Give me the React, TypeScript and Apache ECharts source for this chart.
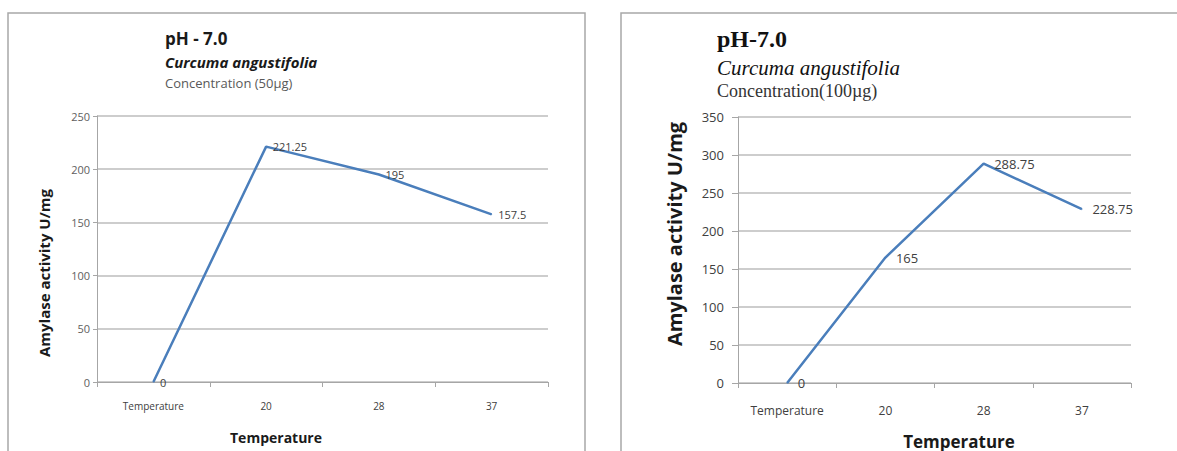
import React, { useEffect, useRef } from "react";
import * as echarts from "echarts";

const categories = ["Temperature", "20", "28", "37"];
const activity50 = [0, 221.25, 195, 157.5];
const activity100 = [0, 165, 288.75, 228.75];
const yMax50 = 250;
const yMax100 = 350;
const yInterval = 50;

const SANS = "'Open Sans', 'Noto Sans', sans-serif";
const SERIF = "'Liberation Serif', 'DejaVu Serif', serif";
const LINE = "#4a7ebb";
const GRID = "#bdbdbd";
const AXIS = "#a6a6a6";

export default function App() {
  const ref = useRef<HTMLDivElement>(null);
  useEffect(() => {
    if (!ref.current) return;
    const chart = echarts.init(ref.current, null, { renderer: "svg" });
    const option: any = {
      animation: false,
      backgroundColor: "#ffffff",
      grid: [
        { left: 97, top: 116, width: 451, height: 266 },
        { left: 738, top: 117, width: 393, height: 266 },
      ],
      xAxis: [
        {
          gridIndex: 0,
          type: "category",
          data: categories,
          boundaryGap: true,
          axisLine: { lineStyle: { color: AXIS, width: 1 } },
          axisTick: { show: true, length: 5, lineStyle: { color: AXIS } },
          axisLabel: { fontFamily: SANS, fontSize: 10, color: "#404040", margin: 19 },
        },
        {
          gridIndex: 1,
          type: "category",
          data: categories,
          boundaryGap: true,
          axisLine: { lineStyle: { color: AXIS, width: 1 } },
          axisTick: { show: true, length: 5, lineStyle: { color: AXIS } },
          axisLabel: { fontFamily: SANS, fontSize: 12, color: "#404040", margin: 21 },
        },
      ],
      yAxis: [
        {
          gridIndex: 0,
          type: "value",
          min: 0,
          max: yMax50,
          interval: yInterval,
          axisLine: { show: true, lineStyle: { color: AXIS } },
          axisTick: { show: true, length: 4, lineStyle: { color: AXIS } },
          splitLine: { lineStyle: { color: GRID, width: 1.5 } },
          axisLabel: { fontFamily: SANS, fontSize: 11, color: "#606060", margin: 7 },
        },
        {
          gridIndex: 1,
          type: "value",
          min: 0,
          max: yMax100,
          interval: yInterval,
          axisLine: { show: true, lineStyle: { color: AXIS } },
          axisTick: { show: true, length: 6, lineStyle: { color: AXIS } },
          splitLine: { lineStyle: { color: GRID, width: 1.5 } },
          axisLabel: { fontFamily: SANS, fontSize: 13, color: "#404040", margin: 14 },
        },
      ],
      series: [
        {
          type: "line",
          xAxisIndex: 0,
          yAxisIndex: 0,
          data: activity50,
          symbol: "circle",
          symbolSize: 1,
          itemStyle: { color: LINE },
          lineStyle: { color: LINE, width: 2.5 },
          label: {
            show: true,
            position: "right",
            distance: 6,
            fontFamily: SANS,
            fontSize: 11,
            color: "#404040",
          },
        },
        {
          type: "line",
          xAxisIndex: 1,
          yAxisIndex: 1,
          data: activity100,
          symbol: "circle",
          symbolSize: 1,
          itemStyle: { color: LINE },
          lineStyle: { color: LINE, width: 2.5 },
          label: {
            show: true,
            position: "right",
            distance: 10,
            fontFamily: SANS,
            fontSize: 13,
            color: "#404040",
          },
        },
      ],
      graphic: [
        {
          type: "rect",
          z: -10,
          shape: { x: 8, y: 13, width: 577, height: 460 },
          style: { fill: "#ffffff", stroke: "#a8a8a8", lineWidth: 1.5 },
        },
        {
          type: "rect",
          z: -10,
          shape: { x: 621, y: 13, width: 580, height: 460 },
          style: { fill: "#ffffff", stroke: "#a8a8a8", lineWidth: 1.5 },
        },
        // left titles
        {
          type: "text",
          x: 165,
          y: 38,
          style: { text: "pH - 7.0", font: `bold 17px ${SANS}`, fill: "#1a1a1a", verticalAlign: "middle" },
        },
        {
          type: "text",
          x: 165,
          y: 62,
          style: { text: "Curcuma angustifolia", font: `italic bold 15px ${SANS}`, fill: "#1a1a1a", verticalAlign: "middle" },
        },
        {
          type: "text",
          x: 165,
          y: 83,
          style: { text: "Concentration (50µg)", font: `13px ${SANS}`, fill: "#595959", verticalAlign: "middle" },
        },
        // right titles
        {
          type: "text",
          x: 717,
          y: 39,
          style: { text: "pH-7.0", font: `bold 24px ${SERIF}`, fill: "#111111", verticalAlign: "middle" },
        },
        {
          type: "text",
          x: 717,
          y: 68,
          style: { text: "Curcuma angustifolia", font: `italic 21px ${SERIF}`, fill: "#111111", verticalAlign: "middle" },
        },
        {
          type: "text",
          x: 717,
          y: 91,
          style: { text: "Concentration(100µg)", font: `18px ${SERIF}`, fill: "#333333", verticalAlign: "middle" },
        },
        // axis names
        {
          type: "text",
          x: 44,
          y: 273,
          rotation: Math.PI / 2,
          style: { text: "Amylase activity U/mg", font: `bold 15px ${SANS}`, fill: "#1a1a1a", align: "center", verticalAlign: "middle" },
        },
        {
          type: "text",
          x: 276,
          y: 437,
          style: { text: "Temperature", font: `bold 14px ${SANS}`, fill: "#1a1a1a", align: "center", verticalAlign: "middle" },
        },
        {
          type: "text",
          x: 674,
          y: 234,
          rotation: Math.PI / 2,
          style: { text: "Amylase activity U/mg", font: `bold 20px ${SANS}`, fill: "#1a1a1a", align: "center", verticalAlign: "middle" },
        },
        {
          type: "text",
          x: 959,
          y: 441,
          style: { text: "Temperature", font: `bold 17px ${SANS}`, fill: "#1a1a1a", align: "center", verticalAlign: "middle" },
        },
      ],
    };
    chart.setOption(option);
    return () => chart.dispose();
  }, []);
  return (
    <div
      ref={ref}
      style={{ position: "absolute", left: 0, top: 0, width: 1177, height: 451 }}
    />
  );
}
